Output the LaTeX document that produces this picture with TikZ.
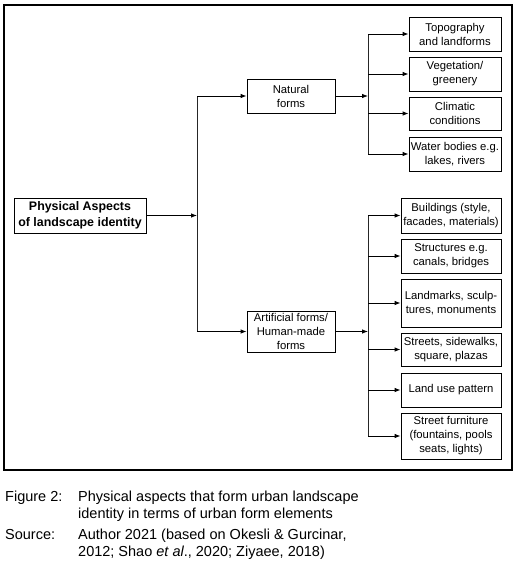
\documentclass[tikz,border=0pt]{standalone}
\usepackage{fontspec}
\setmainfont{Liberation Sans}
\usetikzlibrary{arrows.meta}
\begin{document}
\begin{tikzpicture}[x=1pt,y=-1pt,
  box/.style={draw,line width=0.8pt,inner sep=0pt,align=center,
    font=\fontsize{11.3}{14}\selectfont},
  arr/.style={line width=0.8pt,-{Latex[length=6pt,width=4.5pt]}},
  bar/.style={line width=1pt,black!85},
  captext/.style={anchor=base west,inner sep=0pt,font=\fontsize{14.5}{17}\selectfont}]
\useasboundingbox (0,0) rectangle (517,565);
\draw[line width=1.2pt] (4,5) rectangle (512,470);

% level 1
\node[box,minimum width=132pt,minimum height=35pt,
  font=\fontsize{12.4}{15.5}\selectfont\bfseries] (phys) at (80,215.5)
  {Physical Aspects\\of landscape identity};
% level 2
\node[box,minimum width=88pt,minimum height=34pt] (nat) at (291,96) {Natural\\forms};
\node[box,minimum width=88pt,minimum height=41pt] (art) at (291,331.5) {Artificial forms/\\Human-made\\forms};
% level 3, natural
\node[box,minimum width=92pt,minimum height=34pt] (topo) at (455,34) {Topography\\and landforms};
\node[box,minimum width=92pt,minimum height=34pt] (veg) at (455,74) {Vegetation/\\greenery};
\node[box,minimum width=92pt,minimum height=33pt] (clim) at (455,113.5) {Climatic\\conditions};
\node[box,minimum width=92pt,minimum height=34pt] (water) at (455,154) {Water bodies e.g.\\lakes, rivers};
% level 3, artificial
\node[box,minimum width=100pt,minimum height=35pt] (bld) at (451,215.5) {Buildings (style,\\facades, materials)};
\node[box,minimum width=100pt,minimum height=34pt] (strc) at (451,256) {Structures e.g.\\canals, bridges};
\node[box,minimum width=100pt,minimum height=48pt] (lmk) at (451,303) {Landmarks, sculp-\\tures, monuments};
\node[box,minimum width=100pt,minimum height=33pt] (sts) at (451,349.5) {Streets, sidewalks,\\square, plazas};
\node[box,minimum width=100pt,minimum height=34pt] (lu) at (451,390) {Land use pattern};
\node[box,minimum width=100pt,minimum height=46pt] (fur) at (451,436) {Street furniture\\(fountains, pools\\seats, lights)};

% junction columns
\coordinate (L) at (197,0);
\coordinate (R) at (368,0);

% left bar
\draw[bar] (L |- nat.west) -- (L |- art.west);
\draw[arr] (phys.east) -- (phys.east -| L);
\draw[arr] (L |- nat.west) -- (nat.west);
\draw[arr] (L |- art.west) -- (art.west);

% natural bar
\draw[bar] (R |- topo.west) -- (R |- water.west);
\draw[arr] (nat.east) -- (nat.east -| R);
\foreach \n in {topo,veg,clim,water}
  \draw[arr] (R |- \n.west) -- (\n.west);

% artificial bar
\draw[bar] (R |- bld.west) -- (R |- fur.west);
\draw[arr] (art.east) -- (art.east -| R);
\foreach \n in {bld,strc,lmk,sts,lu,fur}
  \draw[arr] (R |- \n.west) -- (\n.west);

% caption
\node[captext] (f1) at (5,501) {Figure 2:};
\node[captext] (c1) at (78,501) {Physical aspects that form urban landscape};
\node[captext] (c2) at (78,518) {identity in terms of urban form elements};
\node[captext] (s1) at (5,539) {Source:};
\node[captext] (s2) at (78,539) {Author 2021 (based on Okesli \& Gurcinar,};
\node[captext] (s3) at (78,556) {2012; Shao \textit{et al}., 2020; Ziyaee, 2018)};
\end{tikzpicture}
\end{document}
